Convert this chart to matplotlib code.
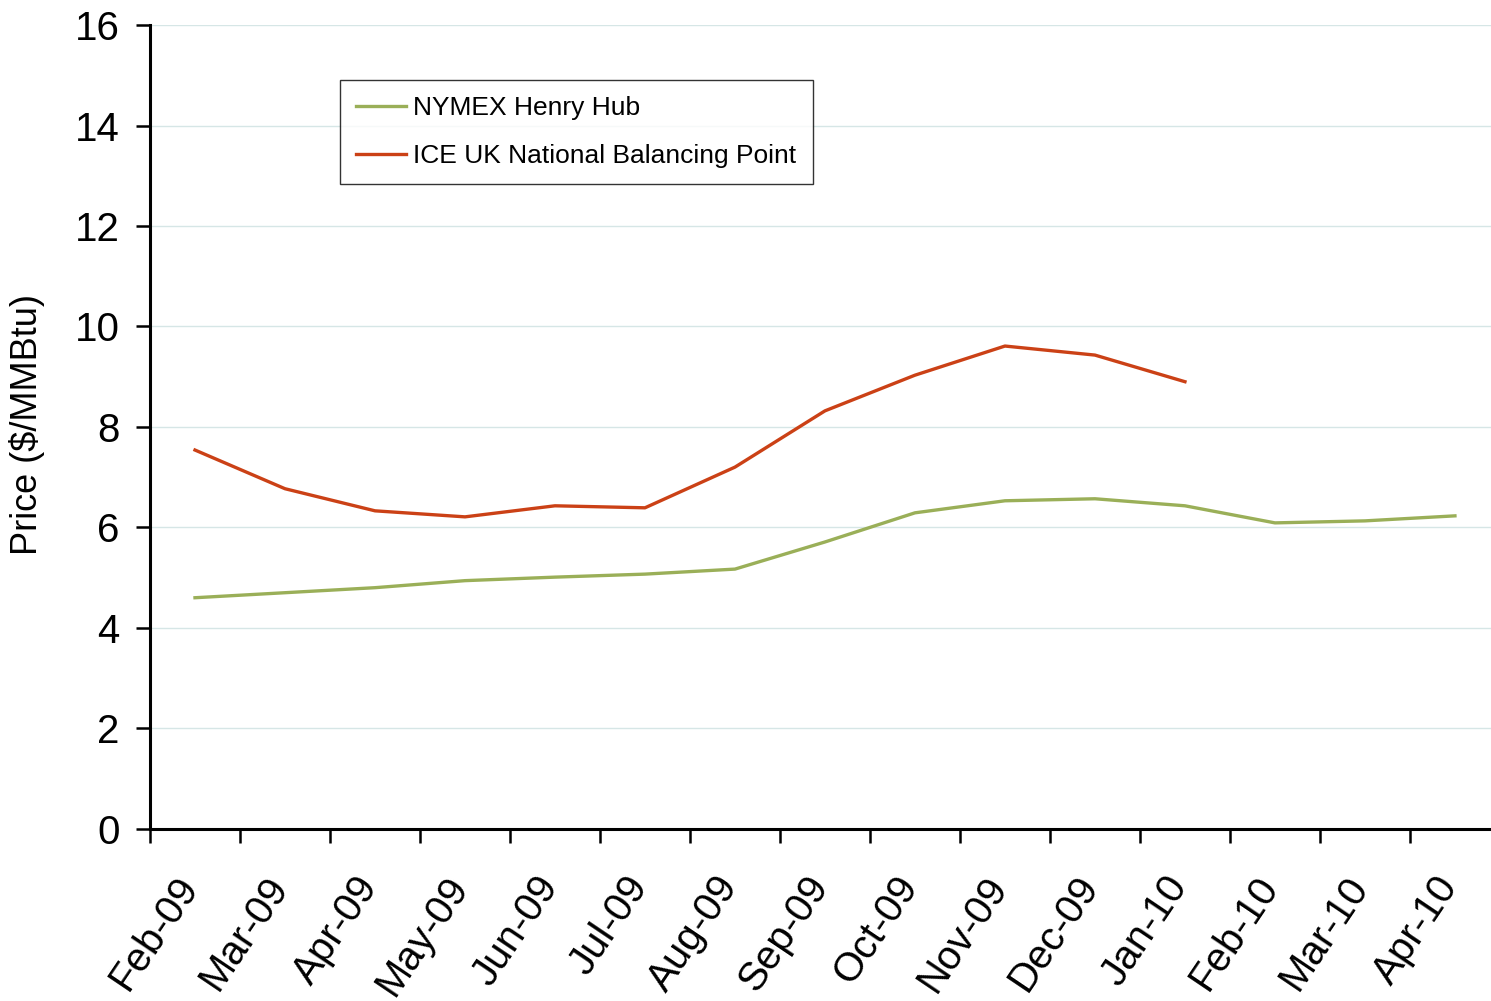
import numpy as np
import matplotlib.pyplot as plt
from matplotlib.transforms import ScaledTranslation

plt.rcParams['font.family'] = ['Liberation Sans', 'DejaVu Sans']

# -------------------------------
# DATA
# -------------------------------
months = ["Feb-09", "Mar-09", "Apr-09", "May-09", "Jun-09", "Jul-09", "Aug-09",
          "Sep-09", "Oct-09", "Nov-09", "Dec-09", "Jan-10", "Feb-10", "Mar-10", "Apr-10"]
henry_hub = [4.60, 4.70, 4.80, 4.94, 5.01, 5.07, 5.17, 5.71, 6.29, 6.53, 6.57, 6.43,
             6.09, 6.13, 6.23]
nbp = [7.54, 6.77, 6.33, 6.21, 6.43, 6.39, 7.20, 8.32, 9.03, 9.61, 9.43, 8.90]
y_ticks = [0, 2, 4, 6, 8, 10, 12, 14, 16]

GREEN = "#9AAF58"
RED = "#CB4116"

# -------------------------------
# PLOT
# -------------------------------
fig = plt.figure(figsize=(14.91, 10.01), dpi=100)
# the category axis runs a little past the right edge of the picture
ax = fig.add_axes([0.1006, 0.172, 0.9054, 0.803])

x = np.arange(len(months))
ax.plot(x, henry_hub, color=GREEN, lw=2.4, label="NYMEX Henry Hub")
ax.plot(x[:len(nbp)], nbp, color=RED, lw=2.4, label="ICE UK National Balancing Point")

ax.set_xlim(-0.5, len(months) - 0.5)
ax.set_ylim(0, 16)
ax.set_yticks(y_ticks)
ax.tick_params(axis='y', labelsize=29, length=10, width=1.8, direction='out', pad=12)
ax.yaxis.grid(True, color="#d6e6e6", lw=1)
ax.set_axisbelow(True)

# category boundaries get the tick marks, labels sit under the centres
ax.set_xticks(np.arange(len(months)) - 0.5)
ax.set_xticklabels([])
ax.tick_params(axis='x', length=10, width=1.8, direction='out')
ax.set_xticks(x, minor=True)
ax.set_xticklabels(months, minor=True, rotation=56, ha='right', rotation_mode='anchor',
                   fontsize=29)
ax.tick_params(axis='x', which='minor', length=0, pad=29)
shift = ScaledTranslation(-21 / 100, 0, fig.dpi_scale_trans)
for lbl in ax.get_xticklabels(minor=True):
    lbl.set_transform(lbl.get_transform() + shift)

for side in ["top", "right"]:
    ax.spines[side].set_visible(False)
for side in ["left", "bottom"]:
    ax.spines[side].set_linewidth(2.2)

ax.set_ylabel("Price ($/MMBtu)", fontsize=26)
ax.yaxis.set_label_coords(-0.0775, 0.5025)

leg = ax.legend(loc="upper left", bbox_to_anchor=(0.1407, 0.932), borderaxespad=0,
                fontsize=19, frameon=True, fancybox=False, handlelength=1.9,
                handletextpad=0.25, borderpad=0.62, labelspacing=0.9)
leg.get_frame().set_edgecolor("black")
leg.get_frame().set_linewidth(1)

plt.savefig("out.png", dpi=100)
plt.close()
